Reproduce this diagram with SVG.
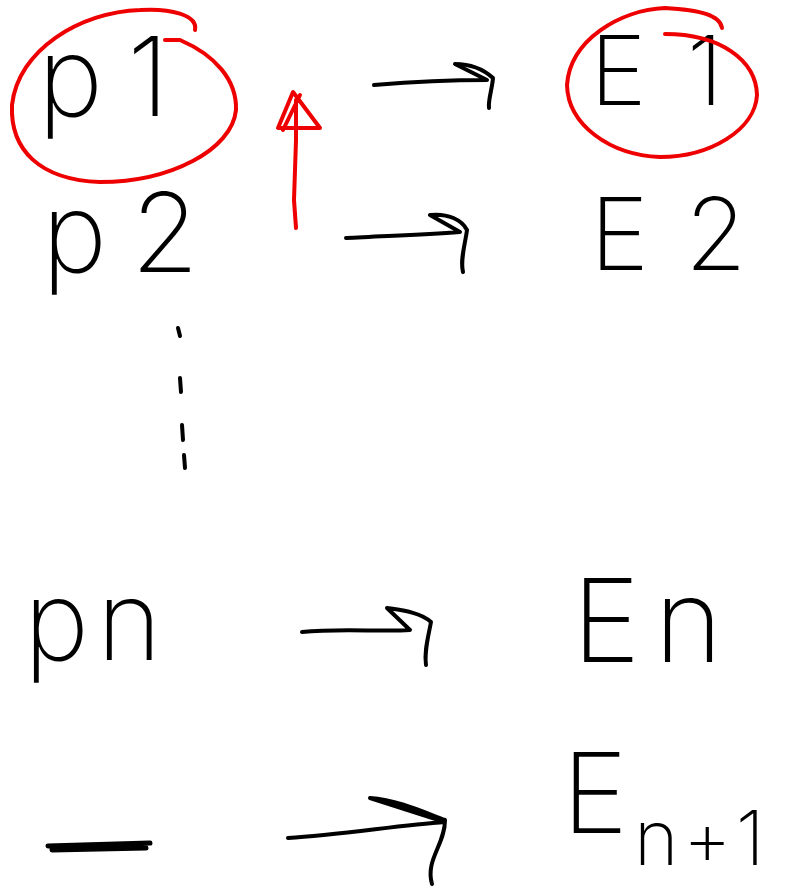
<svg xmlns="http://www.w3.org/2000/svg" width="792" height="889" viewBox="0 0 792 889">
<defs>
<style>
.t{font-family:Inter,"DejaVu Sans","Liberation Sans",sans-serif;font-weight:200;fill:#000}
.c{fill:none;stroke:#000;stroke-width:4;stroke-linecap:round;stroke-linejoin:round}
.r{fill:none;stroke:#e00;stroke-width:4;stroke-linecap:round;stroke-linejoin:round}
</style>
</defs>
<rect width="792" height="889" fill="#fff"/>
<g id="p1"><text class="t" x="38" y="116" font-size="110" letter-spacing="28">p1</text></g>
<g id="p2"><text class="t" x="42" y="272" font-size="110" letter-spacing="24">p2</text></g>
<g id="pn"><text class="t" x="24" y="660" font-size="110" letter-spacing="8">pn</text></g>
<g id="blank"><path d="M48 846 L150 843 M52 850 L146 848" style="fill:none;stroke:#000;stroke-width:5;stroke-linecap:round"/></g>
<g id="E1"><text class="t" x="590" y="105" font-size="96" letter-spacing="40">E1</text></g>
<g id="E2"><text class="t" x="590" y="270" font-size="100" letter-spacing="36">E2</text></g>
<g id="En"><text class="t" x="572" y="662" font-size="116" letter-spacing="14">En</text></g>
<g id="En1"><text class="t" x="562" y="833" font-size="112">E<tspan font-size="76" dy="32" dx="6" letter-spacing="4">n+1</tspan></text></g>
<g id="dots"><path class="c" d="M178 328 L180 336 M180 378 L181 392 M182 425 L183 440 M184 455 L185 468"/></g>
<g id="highlights">
<path class="r" d="M165 40 L180 40 C215 55 237 80 236 110 C232 150 170 182 100 182 C40 180 10 150 12 105 C18 50 80 12 140 10 C170 8 198 15 195 30"/>
<path class="r" d="M665 34 C720 34 756 60 757 95 C755 130 710 157 660 157 C610 155 568 125 567 85 C570 40 620 10 665 8 C700 10 720 15 722 28"/>
<path class="r" d="M296 228 L294 200 L296 140 L296 100 M293 92 L278 128 L320 128 Z M283 130 L300 95"/>
</g>
<g id="connectors">
<path class="c" d="M374 85 C410 82 450 80 487 80 L455 64 C470 64 482 68 493 78 C492 90 488 100 489 108"/>
<path class="c" d="M346 238 C380 236 420 235 460 232 L430 215 C448 213 462 220 467 230 C465 245 460 260 463 272"/>
<path class="c" d="M302 632 C340 628 380 632 410 630 L387 608 C400 610 420 612 431 622 C428 638 424 652 426 665"/>
<path class="c" d="M288 838 C340 835 400 825 445 822 L370 798 C400 800 430 815 445 820 C445 845 425 860 432 884"/>
</g>
</svg>
